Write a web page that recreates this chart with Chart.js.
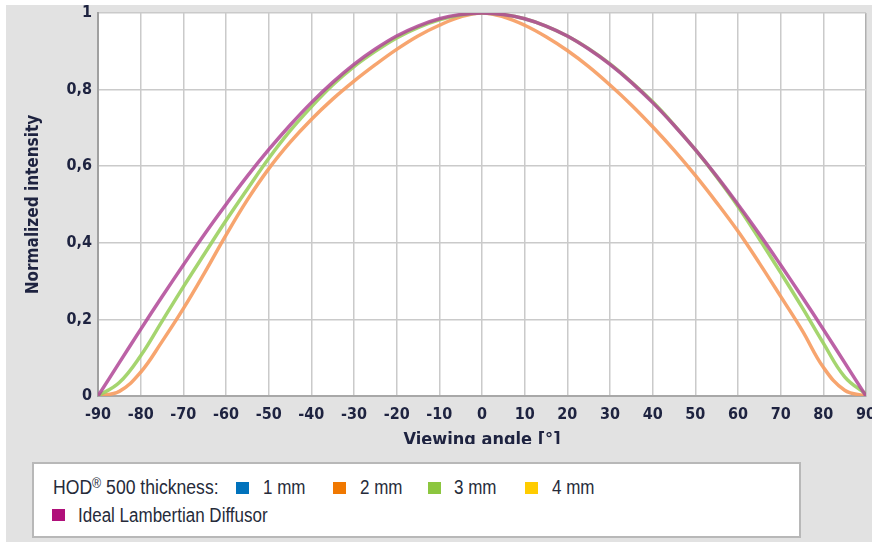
<!DOCTYPE html>
<html>
<head>
<meta charset="utf-8">
<script src="https://cdn.jsdelivr.net/npm/chart.js@4.4.1/dist/chart.umd.min.js"></script>
<style>
    html, body { margin: 0; padding: 0; background: #fff; }
    body { width: 872px; height: 542px; position: relative; overflow: hidden;
           font-family: 'Liberation Sans', Arial, sans-serif; }
    #panneau { position: absolute; left: 6px; top: 5px; width: 866px; height: 537px; background: #e2e2e2; }
    #zone-graph { position: absolute; left: 0; top: 0; width: 866px; height: 439px; overflow: hidden; }
    #legende { position: absolute; left: 26px; top: 457px; width: 769px; height: 76px; box-sizing: border-box;
               background: #fff; border: 2px solid #b8b8b8; color: #262b3a; font-size: 20px; }
    #legende span { position: absolute; line-height: 20px; white-space: nowrap;
                    transform: scaleX(0.85); transform-origin: 0 50%; }
    #legende i { position: absolute; width: 13px; height: 12px; }
    sup { font-size: 14px; vertical-align: 6px; line-height: 0; }
</style>
</head>
<body>
<div id="panneau">
    <div id="zone-graph"><canvas id="chart-intensite" width="880" height="460"></canvas></div>
    <div id="legende">
        <span style="left:19px; top:13px; transform: scaleX(0.88);">HOD<sup>®</sup> 500 thickness:</span>
        <i style="left:202px; top:18px; background:#0072bc;"></i>
        <span style="left:229px; top:13px;">1 mm</span>
        <i style="left:299px; top:18px; background:#f07800;"></i>
        <span style="left:326px; top:13px;">2 mm</span>
        <i style="left:394px; top:18px; background:#8cc63f;"></i>
        <span style="left:420px; top:13px;">3 mm</span>
        <i style="left:491px; top:18px; background:#ffcc00;"></i>
        <span style="left:518px; top:13px;">4 mm</span>
        <i style="left:18px; top:45px; background:#b0107a;"></i>
        <span style="left:44px; top:41px;">Ideal Lambertian Diffusor</span>
    </div>
</div>
<script>
// =========================================================================
// 1. DONNÉES
// =========================================================================
var angles = [-90, -85, -80, -75, -70, -65, -60, -55, -50, -45, -40, -35, -30, -25, -20, -15, -10, -5,
              0, 5, 10, 15, 20, 25, 30, 35, 40, 45, 50, 55, 60, 65, 70, 75, 80, 85, 90];

var lambertien = [0, 0.087, 0.174, 0.259, 0.342, 0.423, 0.5, 0.574, 0.643, 0.707, 0.766, 0.819, 0.866, 0.906, 0.94, 0.966, 0.985, 0.996,
                  1, 0.996, 0.985, 0.966, 0.94, 0.906, 0.866, 0.819, 0.766, 0.707, 0.643, 0.574, 0.5, 0.423, 0.342, 0.259, 0.174, 0.087, 0];

var epaisseur3mm = [0, 0.035, 0.105, 0.195, 0.285, 0.372, 0.458, 0.54, 0.62, 0.692, 0.755, 0.812, 0.86, 0.9, 0.935, 0.962, 0.982, 0.995,
                    1, 0.996, 0.985, 0.966, 0.94, 0.907, 0.867, 0.82, 0.768, 0.708, 0.643, 0.572, 0.495, 0.41, 0.322, 0.232, 0.138, 0.05, 0.005];

var epaisseur2mm = [0, 0.012, 0.062, 0.142, 0.228, 0.322, 0.42, 0.512, 0.593, 0.662, 0.722, 0.775, 0.822, 0.865, 0.905, 0.94, 0.968, 0.99,
                    1, 0.99, 0.968, 0.938, 0.902, 0.86, 0.812, 0.76, 0.703, 0.642, 0.576, 0.505, 0.43, 0.347, 0.26, 0.172, 0.075, 0.015, 0];

var xTicks = [-90, -80, -70, -60, -50, -40, -30, -20, -10, 0, 10, 20, 30, 40, 50, 60, 70, 80, 90];
var yTicks = [0, 0.2, 0.4, 0.6, 0.8, 1];
var yTickLabels = ['0', '0,2', '0,4', '0,6', '0,8', '1'];

// =========================================================================
// 2. HELPERS
// =========================================================================
function serie(valeurs) {
    return angles.map((a, i) => ({ x: a, y: valeurs[i] }));
}

var policeAxe = "'DejaVu Sans Condensed', 'DejaVu Sans', sans-serif";

// fond blanc de la zone de tracé
var fondBlanc = {
    id: 'fondBlanc',
    beforeDraw(chart) {
        var a = chart.chartArea, ctx = chart.ctx;
        ctx.save();
        ctx.fillStyle = '#fff';
        ctx.fillRect(a.left, a.top, a.right - a.left, a.bottom - a.top);
        ctx.restore();
    }
};

// =========================================================================
// 3. GRAPHIQUE
// =========================================================================
var ctx = document.getElementById('chart-intensite').getContext('2d');

new Chart(ctx, {
    type: 'line',
    data: {
        datasets: [
            { label: 'Ideal Lambertian Diffusor', data: serie(lambertien), borderColor: 'rgba(176,70,150,0.85)' },
            { label: '3 mm', data: serie(epaisseur3mm), borderColor: 'rgba(155,208,95,0.9)' },
            { label: '2 mm', data: serie(epaisseur2mm), borderColor: 'rgba(246,155,95,0.9)' }
        ]
    },
    options: {
        responsive: false,
        animation: false,
        elements: {
            point: { radius: 0 },
            line: { borderWidth: 3.5, tension: 0.4, fill: false }
        },
        layout: { padding: { left: 0, right: 20, top: 8, bottom: 0 } },
        plugins: { legend: { display: false }, tooltip: { enabled: false } },
        scales: {
            x: {
                type: 'linear',
                min: -90,
                max: 90,
                afterBuildTicks: s => { s.ticks = xTicks.map(v => ({ value: v })); },
                afterFit: s => { s.height = 69; },
                ticks: { color: '#1e2340', font: { family: policeAxe, size: 16, weight: 'bold' }, padding: 9, maxRotation: 0 },
                grid: {
                    drawTicks: false,
                    lineWidth: 1.5,
                    color: c => (c.tick && c.tick.value === 90) ? '#b0b0b0' : '#cacaca'
                },
                border: { color: '#a8a8a8', width: 2 },
                title: {
                    display: true,
                    text: 'Viewing angle [°]',
                    color: '#1e2340',
                    font: { family: policeAxe, size: 18, weight: 'bold' },
                    padding: { top: 0, bottom: 14 }
                }
            },
            y: {
                min: 0,
                max: 1,
                afterBuildTicks: s => { s.ticks = yTicks.map(v => ({ value: v })); },
                afterFit: s => { s.width = 92; s.paddingTop = 0; s.paddingBottom = 0; },
                ticks: {
                    color: '#1e2340',
                    font: { family: policeAxe, size: 16, weight: 'bold' },
                    padding: 6,
                    callback: (v, i) => yTickLabels[i]
                },
                grid: { drawTicks: false, lineWidth: 1.5, color: '#cacaca' },
                border: { color: '#a0a0a0', width: 2 },
                title: {
                    display: true,
                    text: 'Normalized intensity',
                    color: '#1e2340',
                    font: { family: policeAxe, size: 17, weight: 'bold' },
                    padding: { top: 17, bottom: 0 }
                }
            }
        }
    },
    plugins: [fondBlanc]
});
</script>
</body>
</html>
